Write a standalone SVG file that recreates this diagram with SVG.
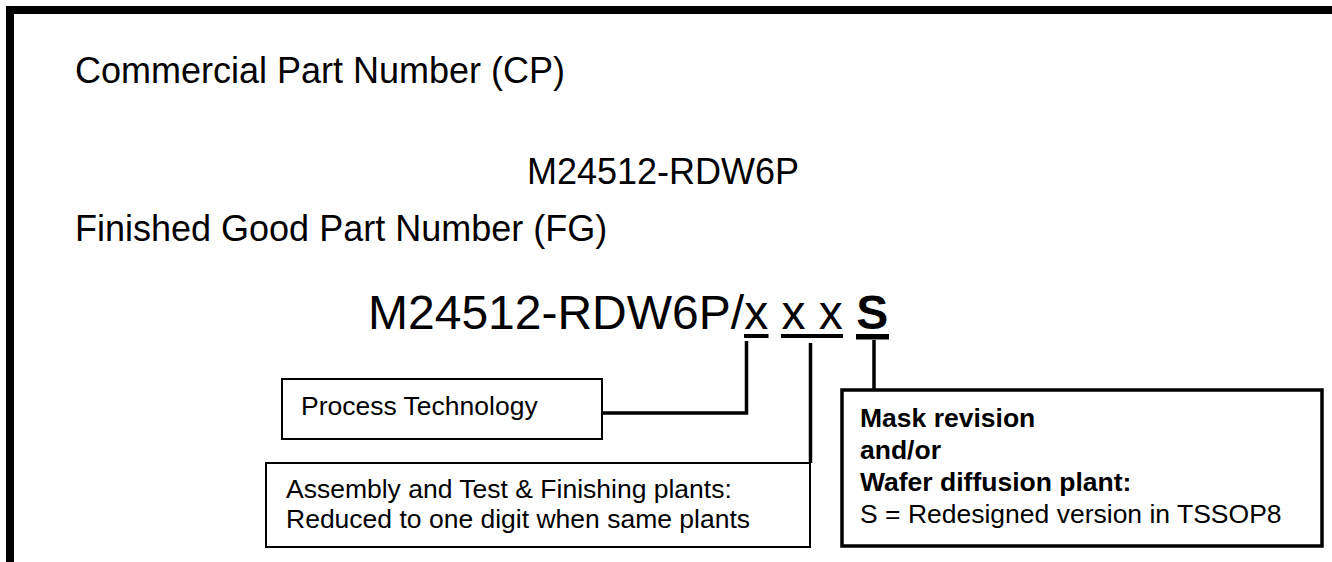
<svg xmlns="http://www.w3.org/2000/svg" width="1332" height="562" viewBox="0 0 1332 562">
<style>
  text { font-family: "Liberation Sans", Arial, sans-serif; fill: #000; }
  .label { font-size: 36px; }
  .cp { font-size: 36px; }
  .fg { font-size: 48px; }
  .box { fill: #fff; stroke: #000; stroke-width: 2; }
  .boxb { fill: #fff; stroke: #000; stroke-width: 3.5; }
  .bt { font-size: 26.5px; }
  .bold { font-weight: bold; }
  .conn { fill: none; stroke: #000; stroke-width: 3.5; }
</style>
<rect width="1332" height="562" fill="#fff"/>
<g id="frame">
  <path d="M10,562 V10 H1332" fill="none" stroke="#000" stroke-width="8"/>
</g>
<g id="cp-label"><text class="label" x="75" y="83">Commercial Part Number (CP)</text></g>
<g id="cp-number"><text class="cp" x="527" y="184">M24512-RDW6P</text></g>
<g id="fg-label"><text class="label" x="75" y="241">Finished Good Part Number (FG)</text></g>
<g id="fg-number">
  <text class="fg" x="368" y="329">M24512-RDW6P/x x x <tspan class="bold">S</tspan></text>
  <rect x="744" y="334" width="24.5" height="4"/>
  <rect x="781" y="334" width="62" height="4"/>
  <rect x="856" y="334" width="33" height="5.5"/>
</g>
<g id="connectors">
  <path class="conn" d="M746.5,341 V413 H602"/>
  <path class="conn" d="M810.5,343 V463"/>
  <path class="conn" d="M874,340 V390"/>
</g>
<g id="process-technology">
  <rect class="box" x="282" y="379" width="320" height="60"/>
  <text class="bt" x="301" y="415">Process Technology</text>
</g>
<g id="assembly">
  <rect class="box" x="266" y="463" width="544" height="84"/>
  <text class="bt" x="286" y="498">Assembly and Test &amp; Finishing plants:</text>
  <text class="bt" x="286" y="528">Reduced to one digit when same plants</text>
</g>
<g id="mask-revision">
  <rect class="boxb" x="842" y="390" width="480" height="156"/>
  <text class="bt bold" x="860" y="427">Mask revision</text>
  <text class="bt bold" x="860" y="459">and/or</text>
  <text class="bt bold" x="860" y="491">Wafer diffusion plant:</text>
  <text class="bt" x="860" y="523">S = Redesigned version in TSSOP8</text>
</g>
</svg>
